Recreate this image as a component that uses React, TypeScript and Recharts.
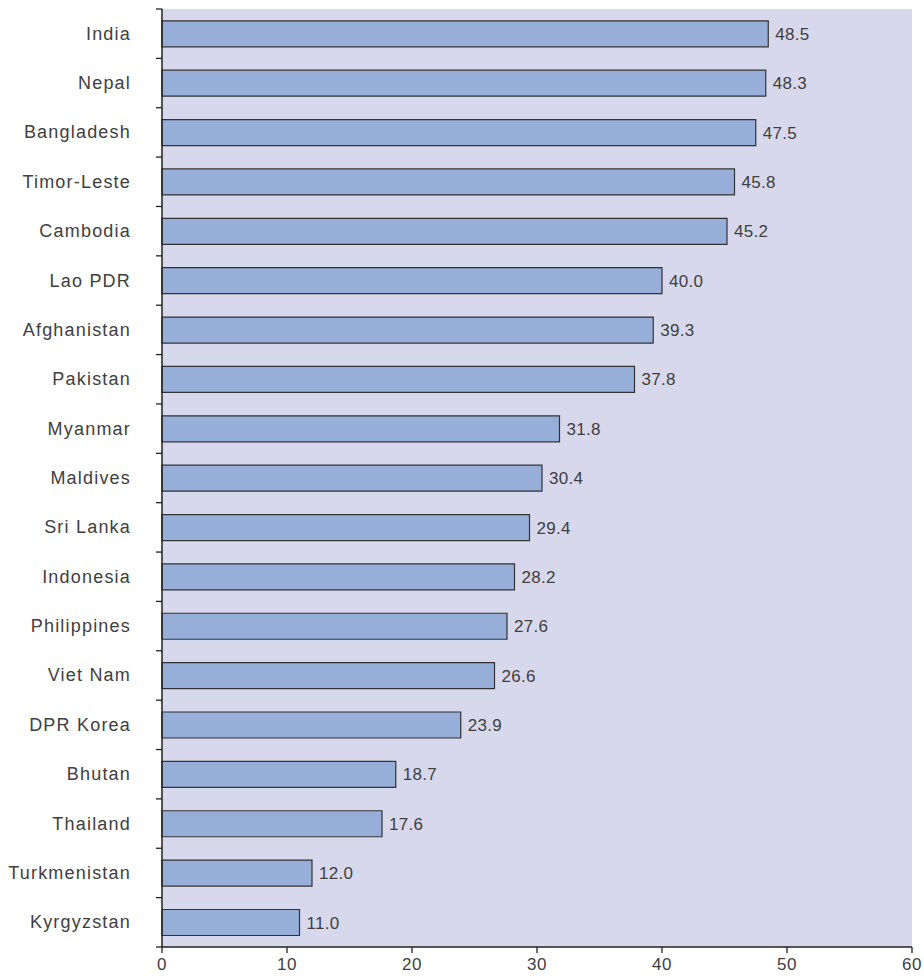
import React from "react";
import { BarChart, Bar, XAxis, YAxis, CartesianGrid, LabelList } from "recharts";

const countries = [
  "India", "Nepal", "Bangladesh", "Timor-Leste", "Cambodia", "Lao PDR", "Afghanistan",
  "Pakistan", "Myanmar", "Maldives", "Sri Lanka", "Indonesia", "Philippines", "Viet Nam",
  "DPR Korea", "Bhutan", "Thailand", "Turkmenistan", "Kyrgyzstan",
];
const values = [
  48.5, 48.3, 47.5, 45.8, 45.2, 40.0, 39.3, 37.8, 31.8, 30.4, 29.4, 28.2, 27.6, 26.6,
  23.9, 18.7, 17.6, 12.0, 11.0,
];
const xTicks = [0, 10, 20, 30, 40, 50, 60];

const data = countries.map((c, i) => ({ name: c, value: values[i] }));

const W = 924;
const H = 979;
const M_TOP = 9;
const M_RIGHT = 12;
const Y_W = 162;
const X_H = 32;
const PLOT_H = H - M_TOP - X_H;
const STEP = PLOT_H / countries.length;
const FONT = "'Liberation Sans', Arial, Helvetica, sans-serif";
const TEXT = "#404040";

const YTick = (props: any) => {
  const { y, payload, index } = props;
  const ax = Y_W;
  const top = y - STEP / 2;
  const bottom = y + STEP / 2;
  return (
    <g>
      <line x1={ax - 6} x2={ax} y1={top} y2={top} stroke="#222" strokeWidth={1.3} />
      {index === countries.length - 1 && (
        <line x1={ax - 6} x2={ax} y1={bottom} y2={bottom} stroke="#222" strokeWidth={1.3} />
      )}
      <text
        x={ax - 31}
        y={y}
        textAnchor="end"
        dominantBaseline="central"
        fontSize={18}
        letterSpacing={1.2}
        fontFamily={FONT}
        fill={TEXT}
      >
        {payload.value}
      </text>
    </g>
  );
};

export default function App() {
  return (
    <div style={{ position: "absolute", left: 0, top: 0, background: "#fff" }}>
      <BarChart
        width={W}
        height={H}
        data={data}
        layout="vertical"
        margin={{ top: M_TOP, right: M_RIGHT, bottom: 0, left: 0 }}
        barCategoryGap="24%"
      >
        <CartesianGrid horizontal={false} vertical={false} fill="#d8d8ec" stroke="none" />
        <XAxis
          type="number"
          domain={[0, 60]}
          ticks={xTicks}
          height={X_H}
          axisLine={{ stroke: "#222", strokeWidth: 1.5 }}
          tickLine={{ stroke: "#222", strokeWidth: 1.3 }}
          tickSize={6}
          tickMargin={5}
          tick={{ fontSize: 17, fontFamily: FONT, fill: TEXT, letterSpacing: 0.6 }}
        />
        <YAxis
          type="category"
          dataKey="name"
          width={Y_W}
          axisLine={{ stroke: "#222", strokeWidth: 1.5 }}
          tickLine={false}
          tickSize={0}
          tick={<YTick />}
          interval={0}
        />
        <Bar dataKey="value" fill="#96aed8" stroke="#333" strokeWidth={1.2} isAnimationActive={false}>
          <LabelList
            dataKey="value"
            position="right"
            offset={7}
            formatter={(v: any) => Number(v).toFixed(1)}
            style={{ fontSize: 17, fontFamily: FONT, fill: TEXT, letterSpacing: 0.3 }}
          />
        </Bar>
      </BarChart>
    </div>
  );
}
